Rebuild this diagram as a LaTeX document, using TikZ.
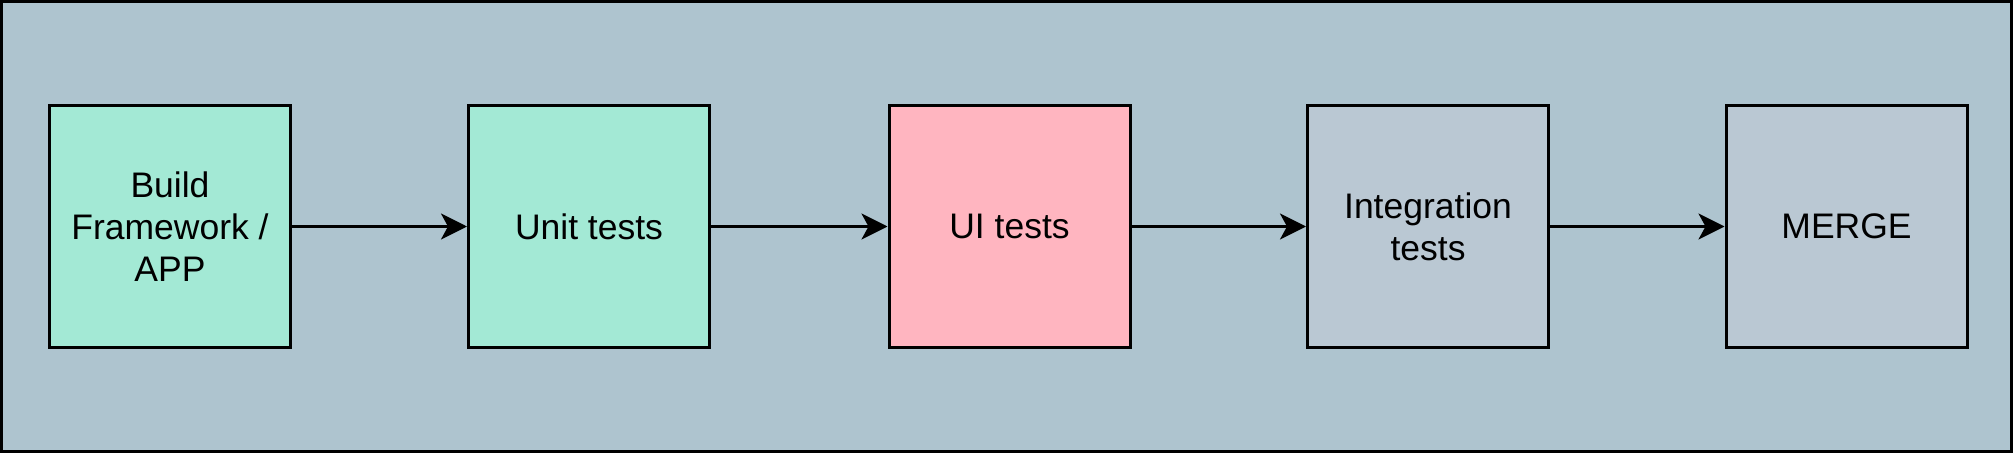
\documentclass[tikz,border=0pt]{standalone}
\usepackage{fontspec}
\setmainfont{Liberation Sans}
\usetikzlibrary{arrows.meta}
\definecolor{panelbg}{RGB}{174,196,207}
\definecolor{donegreen}{RGB}{163,233,213}
\definecolor{failpink}{RGB}{255,181,192}
\definecolor{todogray}{RGB}{186,200,211}
\tikzstyle{stage} = [rectangle, draw=black, line width=0.06cm, minimum width=4.82cm, minimum height=4.82cm, text centered, align=center, font=\fontsize{20.2}{23.8}\selectfont]
\tikzstyle{done} = [stage, fill=donegreen]
\tikzstyle{fail} = [stage, fill=failpink]
\tikzstyle{todo} = [stage, fill=todogray]
\tikzstyle{arrow} = [line width=0.06cm, -{Stealth[length=0.52cm, width=0.52cm, inset=0.14cm]}]

\begin{document}
\begin{tikzpicture}
    \useasboundingbox (0,-4.53) rectangle (40.26,4.53);
    \draw [fill=panelbg, line width=0.06cm] (0.03,-4.5) rectangle (40.23,4.5);

    \node [done] at (3.4,0) (build) {Build\\Framework /\\APP};
    \node [done] at (11.78,0) (unit) {Unit tests};
    \node [fail] at (20.19,0) (ui) {UI tests};
    \node [todo] at (28.56,0) (integration) {Integration\\tests};
    \node [todo] at (36.93,0) (merge) {MERGE};

    \draw [arrow] (build) -- (unit);
    \draw [arrow] (unit) -- (ui);
    \draw [arrow] (ui) -- (integration);
    \draw [arrow] (integration) -- (merge);
\end{tikzpicture}
\end{document}
